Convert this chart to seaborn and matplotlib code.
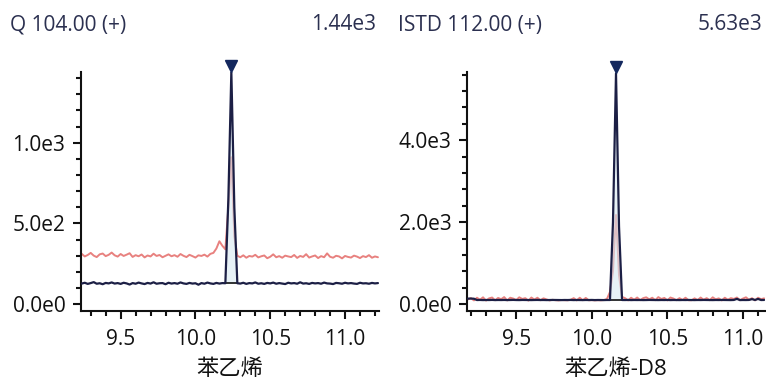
import numpy as np
import pandas as pd
import matplotlib
matplotlib.use("Agg")
import matplotlib.pyplot as plt
import matplotlib.transforms as mtransforms
from matplotlib.ticker import MultipleLocator
import seaborn as sns

# ---------------- data ----------------
titles_left = ["Q 104.00 (+)", "ISTD 112.00 (+)"]
titles_right = ["1.44e3", "5.63e3"]
compound_names = ["苯乙烯", "苯乙烯-D8"]

t_start = [9.24, 9.18]
t_step = 0.02

quant_navy = [
    128, 133, 126, 131, 137, 127, 130, 124, 132, 129,
    135, 128, 131, 126, 133, 129, 122, 131, 127, 134,
    129, 125, 132, 128, 136, 127, 130, 131, 124, 133,
    128, 131, 127, 135, 129, 126, 132, 128, 130, 121,
    131, 127, 134, 129, 126, 132, 128, 131,
    130, 650, 1440, 600, 130,
    128, 133, 126, 131, 129, 135, 127,
    130, 126, 132, 129, 134, 127, 131, 128, 125, 133,
    129, 131, 127, 136, 128, 130, 126, 132, 129, 131,
    127, 134, 129, 128, 125, 132, 130, 127, 133, 129,
    131, 128, 126, 133, 129, 130, 127, 132, 129, 131,
]
quant_red = [
    312, 296, 305, 318, 301, 292, 309, 314, 298, 306,
    320, 303, 295, 311, 299, 307, 316, 293, 304, 297,
    308, 290, 302, 296, 313, 299, 305, 291, 300, 309,
    297, 304, 294, 311, 300, 292, 306, 298, 289, 303,
    299, 307, 295, 312, 318, 345, 390, 362,
    340, 600, 910, 420, 300,
    291, 303, 288, 299, 295, 306, 290,
    297, 302, 285, 294, 309, 291, 298, 288, 301, 296,
    292, 305, 287, 299, 293, 310, 289, 296, 302, 286,
    298, 291, 315, 294, 288, 300, 296, 284, 299, 293,
    289, 301, 295, 286, 298, 292, 304, 288, 296, 291,
]
istd_navy = [
    138, 140, 136, 104, 106, 103, 105, 104, 107, 103,
    105, 104, 106, 103, 105, 107, 104, 103, 106, 105,
    104, 103, 105, 106, 104, 105, 103, 104, 106, 105,
    104, 103, 105, 104, 106, 103, 105, 104, 103, 105,
    104, 106, 103, 105, 104, 103, 105,
    105, 2000, 5630, 1900, 105,
    104, 106, 103, 105, 104, 105, 103, 104,
    106, 105, 104, 103, 105, 104, 106, 103, 105, 104,
    103, 105, 104, 106, 104, 103, 105, 104, 106, 105,
    104, 103, 105, 104, 106, 105, 104, 103, 106, 132,
    103, 105, 104, 106, 126, 105, 131, 104, 106,
]
istd_red = [
    120, 150, 95, 160, 110, 170, 90, 145, 165, 100,
    155, 125, 175, 95, 160, 140, 105, 170, 130, 150,
    90, 165, 115, 160, 100, 145, 120, 95, 110, 100,
    95, 105, 100, 98, 110, 150, 95, 160, 100, 155,
    98, 102, 96, 100, 97, 104, 130,
    300, 800, 2178, 700, 180,
    150, 95, 160, 110, 165, 100, 150, 170,
    120, 160, 100, 175, 130, 155, 95, 165, 140, 100,
    150, 105, 160, 98, 100, 145, 102, 165, 110, 150,
    100, 170, 120, 145, 95, 160, 110, 150, 130, 165,
    100, 140, 170, 110, 150, 95, 160, 125, 145,
]
# integration window (first, last index of the integrated peak)
peak_window = [(48, 52), (47, 51)]
x_limits = [(9.233, 11.227), (9.174, 11.144)]
y_limits = [(-40, 1440), (-156, 5670)]
y_major = [500, 2000]
y_minor = [100, 400]
y_tick_labels = [["0.0e0", "5.0e2", "1.0e3"], ["0.0e0", "2.0e3", "4.0e3"]]

# ---------------- style ----------------
sns.set_theme(style="ticks")
plt.rcParams["font.family"] = ["Open Sans", "Noto Sans CJK SC", "DejaVu Sans"]

NAVY = "#1c1f45"
RED = "#e8817f"
FILL = "#d7e8f1"
TXT = "#2b3050"

fig = plt.figure(figsize=(7.66, 3.80), dpi=100)
W, H = 766, 380
axes_px = [(80.7, 379.0), (467.0, 764.7)]
top_px, bot_px = 71.7, 310.7

series = [(quant_navy, quant_red), (istd_navy, istd_red)]
title_x = [(10, 376), (398, 762)]

for k in range(2):
    l, r = axes_px[k]
    ax = fig.add_axes([l / W, 1 - bot_px / H, (r - l) / W, (bot_px - top_px) / H])
    navy, red = series[k]
    n = len(navy)
    t = np.round(t_start[k] + t_step * np.arange(n), 4)
    df = pd.DataFrame({"t": t, "navy": navy, "red": red})

    sns.lineplot(data=df, x="t", y="red", ax=ax, color=RED, lw=1.4,
                 estimator=None, sort=False, zorder=2)
    i0, i1 = peak_window[k]
    tw = t[i0:i1 + 1]
    yw = np.array(navy[i0:i1 + 1], dtype=float)
    base = np.interp(tw, [tw[0], tw[-1]], [yw[0], yw[-1]])
    ax.fill_between(tw, base, yw, color=FILL, alpha=0.6, lw=0, zorder=3)
    ax.plot([tw[0], tw[-1]], [yw[0], yw[-1]], color="#111111", lw=1.2, zorder=3)
    sns.lineplot(data=df, x="t", y="navy", ax=ax, color=NAVY, lw=1.6,
                 estimator=None, sort=False, zorder=4)
    ia = i0 + int(np.argmax(yw))
    off = mtransforms.offset_copy(ax.transData, fig=fig, x=0, y=6, units="dots")
    ax.plot([t[ia]], [navy[ia]], marker="v", color="#14285e", ms=8,
            transform=off, clip_on=False, zorder=5)

    ax.set_xlim(*x_limits[k])
    ax.set_ylim(*y_limits[k])
    ax.xaxis.set_major_locator(MultipleLocator(0.5))
    ax.xaxis.set_minor_locator(MultipleLocator(0.1))
    ax.yaxis.set_minor_locator(MultipleLocator(y_minor[k]))
    ax.set_yticks([0, y_major[k], 2 * y_major[k]])
    ax.set_yticklabels(y_tick_labels[k])
    ax.xaxis.set_major_formatter(matplotlib.ticker.FormatStrFormatter("%.1f"))
    for s in ["top", "right"]:
        ax.spines[s].set_visible(False)
    for s in ["left", "bottom"]:
        ax.spines[s].set_linewidth(1.5)
        ax.spines[s].set_color("#111111")
    ax.tick_params(axis="both", which="major", direction="out", length=6,
                   width=1.5, color="#111111", labelsize=15, labelcolor="#111111")
    ax.tick_params(axis="x", which="major", pad=7.5)
    ax.tick_params(axis="y", which="major", pad=5)
    ax.tick_params(axis="both", which="minor", direction="out", length=3.5,
                   width=1.5, color="#111111")
    ax.set_xlabel(compound_names[k], fontsize=16, color="#111111", labelpad=6)
    ax.set_ylabel("")
    ax.set_facecolor("white")

    fig.text(title_x[k][0] / W, 1 - 25 / H, titles_left[k], ha="left",
             va="center", fontsize=15, color=TXT)
    fig.text(title_x[k][1] / W, 1 - 25 / H, titles_right[k], ha="right",
             va="center", fontsize=15, color=TXT)

fig.savefig("out.png", dpi=100, facecolor="white")
